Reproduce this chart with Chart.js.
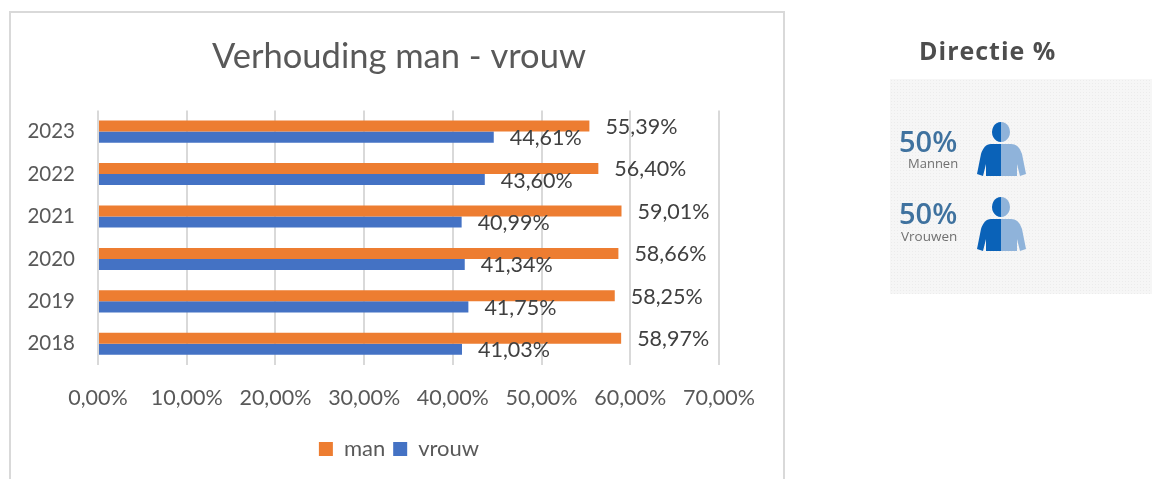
<!DOCTYPE html>
<html><head><meta charset="utf-8">
<script src="https://cdn.jsdelivr.net/npm/chart.js@4"></script>
<style>
html,body{margin:0;padding:0;background:#fff;width:1152px;height:479px;overflow:hidden}
#frame{position:absolute;left:9px;top:11px;width:776px;height:480px;border:2px solid #d9d9d9;box-sizing:border-box}
#wrap{position:absolute;left:0;top:0;width:785px;height:479px}
#panel{position:absolute;left:890px;top:79px;width:262px;height:215px;background-color:#f6f6f6;
background-image:radial-gradient(#ececec 0.7px,transparent 0.8px);background-size:3px 3px}
.t{position:absolute;font-family:"Open Sans",sans-serif;filter:blur(.6px);white-space:nowrap}
svg{position:absolute;filter:blur(.7px)}
</style></head><body>
<div id="frame"></div>
<div id="wrap"><canvas id="c" width="785" height="479"></canvas></div>
<div class="t" style="left:919px;top:33px;font-size:25px;font-weight:700;color:#4d4d4d;letter-spacing:1px">Directie %</div>
<div id="panel"></div>
<div class="t" style="left:899px;top:121px;font-size:29px;font-weight:600;color:#3f729f">50%</div>
<div class="t" style="left:908px;top:154px;font-size:13px;color:#707070;filter:blur(.7px)">Mannen</div>
<div class="t" style="left:899px;top:193px;font-size:29px;font-weight:600;color:#3f729f">50%</div>
<div class="t" style="left:901px;top:227px;font-size:13.5px;color:#707070;filter:blur(.7px)">Vrouwen</div>
<svg style="left:976px;top:121px" width="52" height="58" viewBox="0 0 52 58"><defs><clipPath id="l"><rect x="0" y="0" width="25" height="58"/></clipPath><clipPath id="r"><rect x="25" y="0" width="27" height="58"/></clipPath><path id="p" d="M25 1a9 10 0 1 1-.01 0zM15 23h20c6 0 9 4 11 10l4 20-6 2-3-12v12H10V43L7 55l-6-2 4-20c2-6 5-10 10-10z"/></defs><use href="#p" fill="#0a62b8" clip-path="url(#l)"/><use href="#p" fill="#8fb3da" clip-path="url(#r)"/></svg>
<svg style="left:976px;top:196px" width="52" height="58" viewBox="0 0 52 58"><use href="#p" fill="#0a62b8" clip-path="url(#l)"/><use href="#p" fill="#8fb3da" clip-path="url(#r)"/></svg>
<script>
const categories=["2023","2022","2021","2020","2019","2018"];
const man=[55.39,56.40,59.01,58.66,58.25,58.97];
const vrouw=[44.61,43.60,40.99,41.34,41.75,41.03];
const fmt=v=>v.toFixed(2).replace('.',',')+'%';
const FONT='Lato';
const labelsPlugin={id:'vals',
 afterLayout(ch){ch.scales.y.left=0;},
 afterDatasetsDraw(ch){
  const g=ch.ctx;g.save();g.font='21.5px '+FONT;g.fillStyle='#404040';g.textBaseline='middle';g.textAlign='left';
  ch.data.datasets.forEach((d,i)=>{ch.getDatasetMeta(i).data.forEach((el,j)=>{
    g.fillText(fmt(d.data[j]),el.x+16,el.y+1);});});
  g.restore();}};
new Chart(document.getElementById('c'),{type:'bar',plugins:[labelsPlugin],
data:{labels:categories,datasets:[
 {label:'man',data:man,backgroundColor:'#ed7d31'},
 {label:'vrouw',data:vrouw,backgroundColor:'#4472c4'}]},
options:{indexAxis:'y',responsive:false,animation:false,
 layout:{padding:{left:79,right:66,top:0,bottom:9}},
 plugins:{tooltip:{enabled:false},
  title:{display:true,text:'Verhouding man - vrouw',color:'#595959',font:{family:FONT,size:34.5,weight:'normal'},padding:{top:36,bottom:33}},
  legend:{position:'bottom',labels:{boxWidth:14,boxHeight:14,padding:8,color:'#595959',font:{family:FONT,size:22}}}},
 datasets:{bar:{barPercentage:1,categoryPercentage:0.52}},
 scales:{
  x:{afterFit(s){s.height=65;},min:0,max:70,ticks:{stepSize:10,callback:v=>fmt(v),color:'#595959',font:{family:FONT,size:21.5},padding:20,maxRotation:0},
     grid:{color:'#d9d9d9',lineWidth:2,drawTicks:false},border:{display:false}},
  y:{afterFit(s){s.width=19;},ticks:{color:'#595959',font:{family:FONT,size:20.5},padding:15},
     grid:{display:false},border:{display:false}}
 }}});
</script></body></html>
